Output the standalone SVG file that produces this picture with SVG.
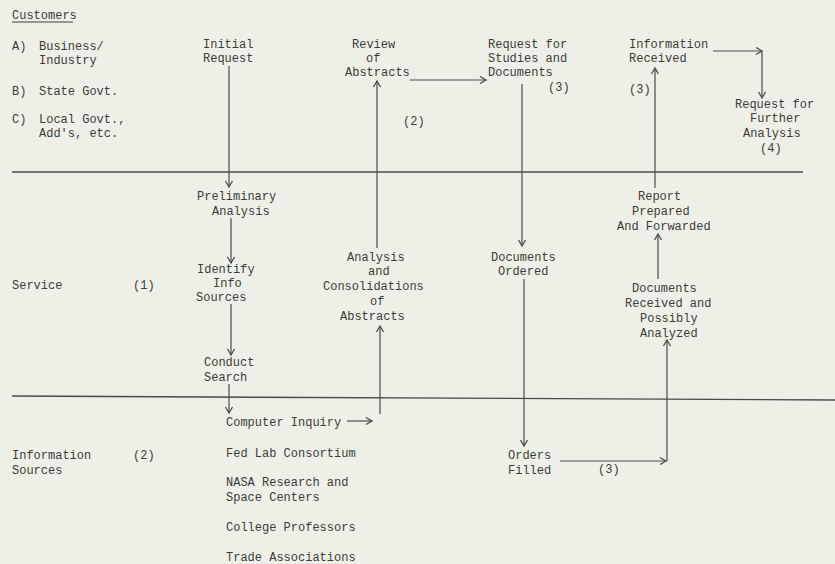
<svg xmlns="http://www.w3.org/2000/svg" width="835" height="564" viewBox="0 0 835 564">
<defs>
<style>
text{font-family:"Liberation Mono","DejaVu Sans Mono",monospace;font-size:12px;fill:#3c3c3a}
.c{text-anchor:middle}
.ln{stroke:#4a4a48;stroke-width:1.2;fill:none}
.div{stroke:#4a4a48;stroke-width:1.4;fill:none}
</style>
<marker id="ah" markerWidth="10" markerHeight="10" refX="7" refY="5" orient="auto" markerUnits="userSpaceOnUse">
<path d="M1,1.5 L7,5 L1,8.5" fill="none" stroke="#4a4a48" stroke-width="1.3"/>
</marker>
</defs>
<rect width="835" height="564" fill="#eef0e7"/>

<g id="dividers">
<line class="div" x1="12" y1="172" x2="803" y2="172"/>
<line class="div" x1="12" y1="396" x2="835" y2="400"/>
</g>

<g id="labels">
<text x="12" y="19">Customers</text>
<line x1="12" y1="22" x2="73" y2="22" stroke="#3c3c3a" stroke-width="1"/>
<text x="12" y="50">A)</text><text x="39" y="50">Business/</text>
<text x="39" y="64">Industry</text>
<text x="12" y="95">B)</text><text x="39" y="95">State Govt.</text>
<text x="12" y="123">C)</text><text x="39" y="123">Local Govt.,</text>
<text x="39" y="137">Add's, etc.</text>
<text x="12" y="289">Service</text><text x="133" y="289">(1)</text>
<text x="12" y="459">Information</text><text x="12" y="474">Sources</text>
<text x="133" y="459">(2)</text>
</g>

<g id="initial-request">
<text x="203" y="48">Initial</text><text x="203" y="62">Request</text>
</g>
<g id="review-abstracts">
<text x="352" y="48">Review</text><text x="366" y="62">of</text><text x="345" y="76">Abstracts</text>
</g>
<g id="request-studies">
<text x="488" y="48">Request for</text><text x="488" y="62">Studies and</text><text x="488" y="76">Documents</text>
<text x="548" y="91">(3)</text>
</g>
<g id="label-2"><text x="403" y="125">(2)</text></g>
<g id="information-received">
<text x="629" y="48">Information</text><text x="629" y="62">Received</text>
<text x="629" y="93">(3)</text>
</g>
<g id="further-analysis">
<text x="735" y="108">Request for</text><text x="750" y="122">Further</text><text x="743" y="137">Analysis</text><text x="760" y="152">(4)</text>
</g>
<g id="preliminary-analysis">
<text x="197" y="200">Preliminary</text><text x="212" y="215">Analysis</text>
</g>
<g id="identify-sources">
<text x="197" y="273">Identify</text><text x="213" y="287">Info</text><text x="196" y="301">Sources</text>
</g>
<g id="conduct-search">
<text x="204" y="366">Conduct</text><text x="204" y="381">Search</text>
</g>
<g id="analysis-consolidation">
<text x="347" y="261">Analysis</text><text x="368" y="275">and</text><text x="323" y="290">Consolidations</text><text x="370" y="305">of</text><text x="340" y="320">Abstracts</text>
</g>
<g id="documents-ordered">
<text x="491" y="261">Documents</text><text x="498" y="275">Ordered</text>
</g>
<g id="report-prepared">
<text x="638" y="200">Report</text><text x="632" y="215">Prepared</text><text x="617" y="230">And Forwarded</text>
</g>
<g id="documents-received">
<text x="632" y="292">Documents</text><text x="625" y="307">Received and</text><text x="640" y="322">Possibly</text><text x="640" y="337">Analyzed</text>
</g>
<g id="orders-filled">
<text x="508" y="459">Orders</text><text x="508" y="474">Filled</text>
<text x="598" y="473">(3)</text>
</g>
<g id="information-sources">
<text x="226" y="426">Computer Inquiry</text>
<text x="226" y="457">Fed Lab Consortium</text>
<text x="226" y="486">NASA Research and</text>
<text x="226" y="501">Space Centers</text>
<text x="226" y="531">College Professors</text>
<text x="226" y="561">Trade Associations</text>
</g>

<g id="connectors">
<line class="ln" x1="229" y1="66" x2="229" y2="187" marker-end="url(#ah)"/>
<line class="ln" x1="231" y1="218" x2="231" y2="263" marker-end="url(#ah)"/>
<line class="ln" x1="231" y1="304" x2="231" y2="355" marker-end="url(#ah)"/>
<line class="ln" x1="229" y1="384" x2="229" y2="413" marker-end="url(#ah)"/>
<line class="ln" x1="347" y1="421" x2="372" y2="421" marker-end="url(#ah)"/>
<line class="ln" x1="380" y1="414" x2="380" y2="326" marker-end="url(#ah)"/>
<line class="ln" x1="377" y1="248" x2="377" y2="81" marker-end="url(#ah)"/>
<line class="ln" x1="410" y1="80" x2="486" y2="80" marker-end="url(#ah)"/>
<line class="ln" x1="522" y1="84" x2="522" y2="246" marker-end="url(#ah)"/>
<line class="ln" x1="524" y1="279" x2="524" y2="446" marker-end="url(#ah)"/>
<line class="ln" x1="560" y1="461" x2="666" y2="461" marker-end="url(#ah)"/>
<line class="ln" x1="667" y1="461" x2="667" y2="340" marker-end="url(#ah)"/>
<line class="ln" x1="658" y1="279" x2="658" y2="234" marker-end="url(#ah)"/>
<line class="ln" x1="655" y1="188" x2="655" y2="68" marker-end="url(#ah)"/>
<line class="ln" x1="713" y1="51" x2="762" y2="51" marker-end="url(#ah)"/>
<line class="ln" x1="762" y1="51" x2="762" y2="98" marker-end="url(#ah)"/>
</g>
</svg>
